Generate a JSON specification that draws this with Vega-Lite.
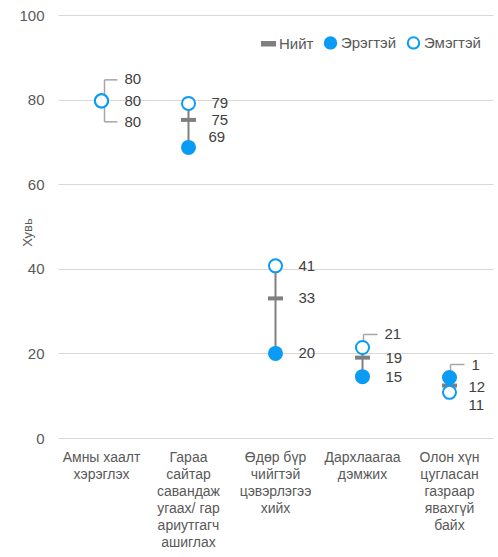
{
  "$schema": "https://vega.github.io/schema/vega-lite/v6.json",
  "width": 435,
  "height": 423,
  "autosize": {"type": "none"},
  "padding": {"left": 58, "top": 15, "right": 5, "bottom": 119},
  "background": "white",
  "config": {
    "font": "Liberation Sans",
    "view": {"stroke": null},
    "axis": {"labelColor": "#595959", "titleColor": "#595959", "gridColor": "#d9d9d9", "domain": false, "ticks": false},
    "axisY": {
      "labelFontSize": 15,
      "labelPadding": 14,
      "titleFontSize": 13,
      "titleFontWeight": "normal",
      "titleAngle": -90,
      "titleX": -31,
      "titleY": 217,
      "titleAlign": "center",
      "titleBaseline": "middle",
      "tickCount": 6,
      "grid": true
    }
  },
  "data": {
    "values": [
      {"cat": "Амны хаалт|хэрэглэх", "series": "Нийт", "value": 79.7, "label": "80"},
      {"cat": "Амны хаалт|хэрэглэх", "series": "Эрэгтэй", "value": 79.7, "label": "80"},
      {"cat": "Амны хаалт|хэрэглэх", "series": "Эмэгтэй", "value": 79.7, "label": "80"},
      {"cat": "Гараа|сайтар|савандаж|угаах/ гар|ариутгагч|ашиглах", "series": "Нийт", "value": 75.2, "label": "75"},
      {"cat": "Гараа|сайтар|савандаж|угаах/ гар|ариутгагч|ашиглах", "series": "Эрэгтэй", "value": 68.7, "label": "69"},
      {"cat": "Гараа|сайтар|савандаж|угаах/ гар|ариутгагч|ашиглах", "series": "Эмэгтэй", "value": 79.1, "label": "79"},
      {"cat": "Өдөр бүр|чийгтэй|цэвэрлэгээ|хийх", "series": "Нийт", "value": 33.0, "label": "33"},
      {"cat": "Өдөр бүр|чийгтэй|цэвэрлэгээ|хийх", "series": "Эрэгтэй", "value": 20.0, "label": "20"},
      {"cat": "Өдөр бүр|чийгтэй|цэвэрлэгээ|хийх", "series": "Эмэгтэй", "value": 40.7, "label": "41"},
      {"cat": "Дархлаагаа|дэмжих", "series": "Нийт", "value": 19.0, "label": "19"},
      {"cat": "Дархлаагаа|дэмжих", "series": "Эрэгтэй", "value": 14.5, "label": "15"},
      {"cat": "Дархлаагаа|дэмжих", "series": "Эмэгтэй", "value": 21.4, "label": "21"},
      {"cat": "Олон хүн|цугласан|газраар|явахгүй|байх", "series": "Нийт", "value": 12.4, "label": "12"},
      {"cat": "Олон хүн|цугласан|газраар|явахгүй|байх", "series": "Эрэгтэй", "value": 14.3, "label": "1"},
      {"cat": "Олон хүн|цугласан|газраар|явахгүй|байх", "series": "Эмэгтэй", "value": 10.8, "label": "11"}
    ]
  },
  "encoding": {
    "x": {
      "field": "cat",
      "type": "nominal",
      "sort": null,
      "title": null,
      "scale": {"paddingInner": 0, "paddingOuter": 0},
      "axis": {
        "labelExpr": "split(datum.label, '|')",
        "labelAngle": 0,
        "labelFontSize": 14,
        "labelLineHeight": 17,
        "labelPadding": 12,
        "labelBaseline": "top",
        "labelOverlap": false,
        "labelBound": false,
        "labelLimit": 200,
        "grid": false
      }
    }
  },
  "layer": [
    {
      "transform": [
        {"filter": "datum.series !== 'Нийт'"},
        {"aggregate": [{"op": "min", "field": "value", "as": "lo"}, {"op": "max", "field": "value", "as": "hi"}], "groupby": ["cat"]}
      ],
      "mark": {"type": "rule", "color": "#7f7f7f", "strokeWidth": 2},
      "encoding": {
        "y": {"field": "lo", "type": "quantitative", "scale": {"domain": [0, 100], "nice": false}, "title": "Хувь"},
        "y2": {"field": "hi"}
      }
    },
    {
      "transform": [{"filter": "datum.cat === 'Амны хаалт|хэрэглэх' && datum.series === 'Нийт'"}],
      "mark": {"type": "rule", "color": "#a6a6a6", "strokeWidth": 1.5, "xOffset": 3, "x2Offset": 3, "yOffset": -21, "y2Offset": 21},
      "encoding": {"y": {"field": "value", "type": "quantitative", "title": "Хувь"}, "y2": {"field": "value"}}
    },
    {
      "transform": [{"filter": "datum.cat === 'Амны хаалт|хэрэглэх' && datum.series === 'Нийт'"}],
      "mark": {"type": "rule", "color": "#a6a6a6", "strokeWidth": 1.5, "xOffset": 3, "x2Offset": 16, "yOffset": -21, "y2Offset": -21},
      "encoding": {"x2": {"field": "cat"}, "y": {"field": "value", "type": "quantitative", "title": "Хувь"}}
    },
    {
      "transform": [{"filter": "datum.cat === 'Амны хаалт|хэрэглэх' && datum.series === 'Нийт'"}],
      "mark": {"type": "rule", "color": "#a6a6a6", "strokeWidth": 1.5, "xOffset": 3, "x2Offset": 16, "yOffset": 21, "y2Offset": 21},
      "encoding": {"x2": {"field": "cat"}, "y": {"field": "value", "type": "quantitative", "title": "Хувь"}}
    },
    {
      "transform": [{"filter": "(datum.cat === 'Дархлаагаа|дэмжих' && datum.series === 'Эмэгтэй') || (datum.cat === 'Олон хүн|цугласан|газраар|явахгүй|байх' && datum.series === 'Эрэгтэй')"}],
      "mark": {"type": "rule", "color": "#a6a6a6", "strokeWidth": 1.5, "xOffset": 1, "x2Offset": 1, "yOffset": -13, "y2Offset": -6},
      "encoding": {"y": {"field": "value", "type": "quantitative", "title": "Хувь"}, "y2": {"field": "value"}}
    },
    {
      "transform": [{"filter": "(datum.cat === 'Дархлаагаа|дэмжих' && datum.series === 'Эмэгтэй') || (datum.cat === 'Олон хүн|цугласан|газраар|явахгүй|байх' && datum.series === 'Эрэгтэй')"}],
      "mark": {"type": "rule", "color": "#a6a6a6", "strokeWidth": 1.5, "xOffset": 1, "x2Offset": 15, "yOffset": -13, "y2Offset": -13},
      "encoding": {"x2": {"field": "cat"}, "y": {"field": "value", "type": "quantitative", "title": "Хувь"}}
    },
    {
      "transform": [{"filter": "datum.series === 'Нийт'"}],
      "mark": {"type": "tick", "color": "#7f7f7f", "size": 15, "thickness": 4, "opacity": 1},
      "encoding": {"y": {"field": "value", "type": "quantitative", "title": "Хувь"}}
    },
    {
      "transform": [{"filter": "datum.series !== 'Нийт'"}],
      "mark": {"type": "point", "size": 170, "strokeWidth": 2, "opacity": 1, "filled": false},
      "encoding": {
        "y": {"field": "value", "type": "quantitative", "title": "Хувь"},
        "color": {
          "field": "series",
          "type": "nominal",
          "title": null,
          "scale": {"domain": ["Нийт", "Эрэгтэй", "Эмэгтэй"], "range": ["#7f7f7f", "#0a9cf5", "#0a9cf5"]},
          "legend": {
            "orient": "none",
            "legendX": 203,
            "legendY": 20,
            "direction": "horizontal",
            "labelFontSize": 15,
            "labelColor": "#595959",
            "labelOffset": 3,
            "columnPadding": 6,
            "symbolSize": 130,
            "symbolStrokeWidth": 2
          }
        },
        "fill": {
          "field": "series",
          "type": "nominal",
          "title": null,
          "scale": {"domain": ["Нийт", "Эрэгтэй", "Эмэгтэй"], "range": ["#7f7f7f", "#0a9cf5", "#ffffff"]}
        },
        "shape": {
          "field": "series",
          "type": "nominal",
          "title": null,
          "scale": {"domain": ["Нийт", "Эрэгтэй", "Эмэгтэй"], "range": ["M-1.15,-0.3H1.15V0.3H-1.15Z", "circle", "circle"]}
        }
      }
    },
    {
      "transform": [{"filter": "!((datum.cat === 'Амны хаалт|хэрэглэх' && datum.series !== 'Нийт') || (datum.cat === 'Гараа|сайтар|савандаж|угаах/ гар|ариутгагч|ашиглах' && datum.series === 'Эрэгтэй') || (datum.cat === 'Дархлаагаа|дэмжих' && datum.series === 'Эмэгтэй') || (datum.cat === 'Олон хүн|цугласан|газраар|явахгүй|байх'))"}],
      "mark": {"type": "text", "align": "left", "baseline": "middle", "dx": 23, "fontSize": 15, "color": "#404040"},
      "encoding": {"y": {"field": "value", "type": "quantitative", "title": "Хувь"}, "text": {"field": "label"}}
    },
    {
      "transform": [{"filter": "datum.cat === 'Олон хүн|цугласан|газраар|явахгүй|байх' && datum.series === 'Нийт'"}],
      "mark": {"type": "text", "align": "left", "baseline": "middle", "dx": 19, "dy": 1, "fontSize": 15, "color": "#404040"},
      "encoding": {"y": {"field": "value", "type": "quantitative", "title": "Хувь"}, "text": {"field": "label"}}
    },
    {
      "transform": [{"filter": "datum.cat === 'Амны хаалт|хэрэглэх' && datum.series === 'Эмэгтэй'"}],
      "mark": {"type": "text", "align": "left", "baseline": "middle", "dx": 23, "dy": -22, "fontSize": 15, "color": "#404040"},
      "encoding": {"y": {"field": "value", "type": "quantitative", "title": "Хувь"}, "text": {"field": "label"}}
    },
    {
      "transform": [{"filter": "datum.cat === 'Амны хаалт|хэрэглэх' && datum.series === 'Эрэгтэй'"}],
      "mark": {"type": "text", "align": "left", "baseline": "middle", "dx": 23, "dy": 21, "fontSize": 15, "color": "#404040"},
      "encoding": {"y": {"field": "value", "type": "quantitative", "title": "Хувь"}, "text": {"field": "label"}}
    },
    {
      "transform": [{"filter": "datum.cat === 'Гараа|сайтар|савандаж|угаах/ гар|ариутгагч|ашиглах' && datum.series === 'Эрэгтэй'"}],
      "mark": {"type": "text", "align": "left", "baseline": "middle", "dx": 20, "dy": -10, "fontSize": 15, "color": "#404040"},
      "encoding": {"y": {"field": "value", "type": "quantitative", "title": "Хувь"}, "text": {"field": "label"}}
    },
    {
      "transform": [{"filter": "(datum.cat === 'Дархлаагаа|дэмжих' && datum.series === 'Эмэгтэй') || (datum.cat === 'Олон хүн|цугласан|газраар|явахгүй|байх' && datum.series === 'Эрэгтэй')"}],
      "mark": {"type": "text", "align": "left", "baseline": "middle", "dx": 22, "dy": -13, "fontSize": 15, "color": "#404040"},
      "encoding": {"y": {"field": "value", "type": "quantitative", "title": "Хувь"}, "text": {"field": "label"}}
    },
    {
      "transform": [{"filter": "datum.cat === 'Олон хүн|цугласан|газраар|явахгүй|байх' && datum.series === 'Эмэгтэй'"}],
      "mark": {"type": "text", "align": "left", "baseline": "middle", "dx": 19, "dy": 13, "fontSize": 15, "color": "#404040"},
      "encoding": {"y": {"field": "value", "type": "quantitative", "title": "Хувь"}, "text": {"field": "label"}}
    }
  ]
}
